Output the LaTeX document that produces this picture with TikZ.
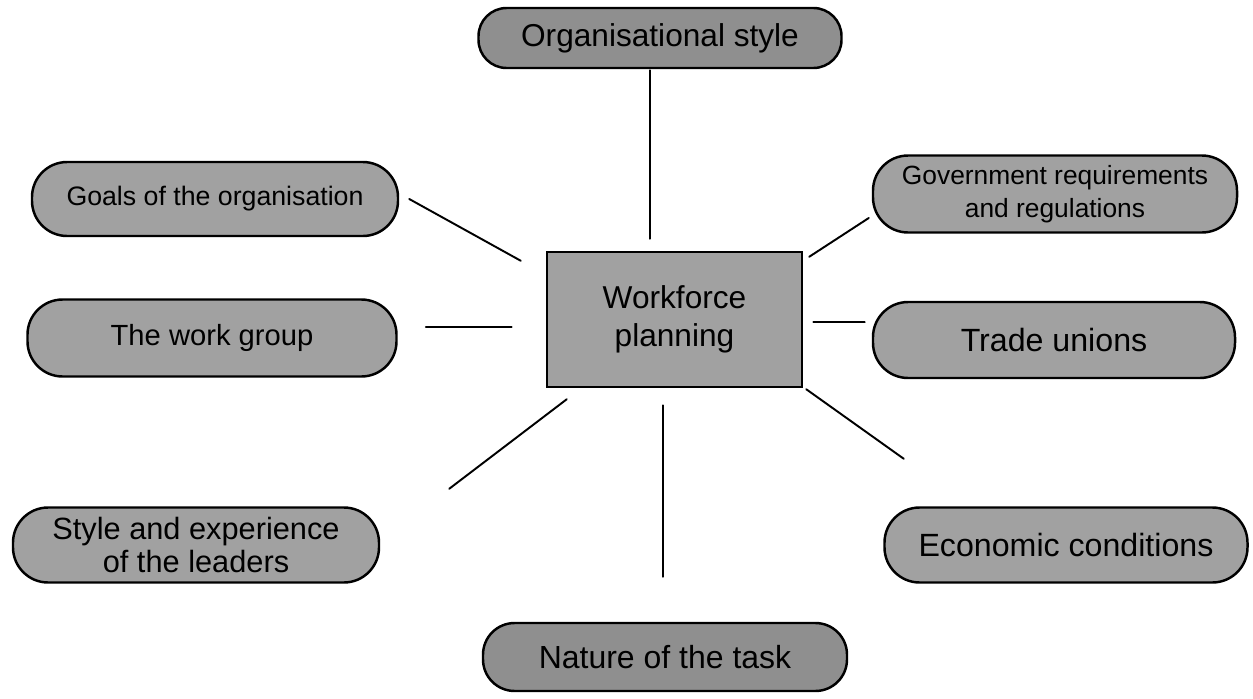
\documentclass[tikz,border=0pt]{standalone}
\usepackage{fontspec}
\setmainfont{Liberation Sans}
\usetikzlibrary{calc}
\definecolor{scangray}{gray}{0.63}
\definecolor{scandark}{gray}{0.56}

\begin{document}
\begin{tikzpicture}[x=0.2mm, y=-0.2mm,
    pill/.style={draw=black, line width=1.4pt, fill=scangray, rounded corners=20pt, align=center, inner sep=0pt},
    box/.style={draw=black, line width=1.4pt, fill=scangray, align=center, inner sep=0pt},
    link/.style={line width=1.1pt, line cap=round}]
    \useasboundingbox (0,0) rectangle (1253,698);

    % centre box
    \node[box, minimum width=51mm, minimum height=27mm, font=\fontsize{18}{21.5}\selectfont] (wp) at (674.5,319.5)
        {Workforce\\planning};

    % the factors around it
    \node[pill, fill=scandark, rounded corners=16pt, minimum width=72.6mm, minimum height=12mm, font=\fontsize{18}{21}\selectfont] (org) at (660,38)
        {Organisational style};
    \node[pill, minimum width=73.2mm, minimum height=14.8mm, font=\fontsize{15.2}{18}\selectfont] (goals) at (215,199)
        {Goals of the organisation};
    \node[pill, minimum width=72.8mm, minimum height=15.4mm, font=\fontsize{15}{18.5}\selectfont] (gov) at (1055,194)
        {Government requirements\\and regulations};
    \node[pill, minimum width=73.8mm, minimum height=15.4mm, font=\fontsize{16.6}{19}\selectfont] (group) at (212,338)
        {The work group};
    \node[pill, minimum width=72.4mm, minimum height=15.2mm, font=\fontsize{18.3}{21}\selectfont] (unions) at (1054,340)
        {Trade unions};
    \node[pill, minimum width=73.2mm, minimum height=15mm, font=\fontsize{17.5}{18.5}\selectfont] (leaders) at (196,545)
        {Style and experience\\of the leaders};
    \node[pill, minimum width=72.6mm, minimum height=15mm, font=\fontsize{18.3}{21}\selectfont] (economy) at (1066,545)
        {Economic conditions};
    \node[pill, fill=scandark, rounded corners=18pt, minimum width=72.8mm, minimum height=13.6mm, font=\fontsize{18.2}{21}\selectfont] (task) at (665,657)
        {Nature of the task};

    % spokes, they stop short of the shapes
    \draw[link] ($(org.south)+(-10,1)$) -- ($(wp.north)+(-24.5,-12)$);
    \draw[link] ($(goals.east)+(10,0)$) -- ($(wp.north west)+(-25,10)$);
    \draw[link] ($(gov.west)+(-3,24)$) -- ($(wp.north east)+(6,6)$);
    \draw[link] ($(group.east)+(28,-11)$) -- ($(wp.west)+(-34,7.5)$);
    \draw[link] ($(unions.west)+(-7,-18)$) -- ($(wp.east)+(10,2.5)$);
    \draw[link] ($(leaders.north east)+(69,-17.5)$) -- ($(wp.south west)+(21,11)$);
    \draw[link] ($(task.north)+(-2,-45)$) -- ($(wp.south)+(-11.5,17)$);
    \draw[link] ($(economy.north west)+(20.5,-47.5)$) -- ($(wp.south east)+(3,1)$);
\end{tikzpicture}
\end{document}
